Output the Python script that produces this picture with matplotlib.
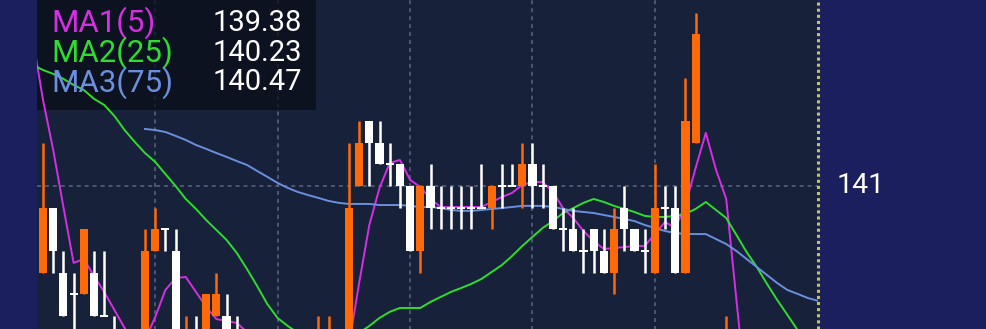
import numpy as np
import matplotlib.pyplot as plt
from matplotlib.patches import Rectangle
import matplotlib.transforms as mtransforms

# ---- candles (index 0..76), prices ----
opens = [140.6, 140.9, 140.6, 140.5, 140.5, 140.6, 140.4, 140.3, 140.2, 140.1,
         140.2, 140.7, 140.8, 140.7, 140.2, 140.3, 140.2, 140.4, 140.4, 140.3,
         140.2, 140.1, 140.0, 140.1, 140.0, 140.1, 140.2, 140.1, 140.1, 140.3,
         140.2, 141.0, 141.3, 141.2, 141.1, 141.1, 141.0, 140.7, 141.0, 140.9,
         140.9, 140.9, 140.9, 140.9, 140.9, 141.0, 141.0, 141.0, 141.1, 141.0,
         141.0, 140.8, 140.8, 140.7, 140.8, 140.7, 140.6, 140.9, 140.8, 140.7,
         140.6, 140.9, 140.9, 140.6, 141.2, 140.2, 140.0, 139.9, 140.1, 139.8,
         139.6, 139.5, 139.4, 139.3, 139.5, 139.4, 139.3]
highs = [141.2, 140.9, 140.7, 140.6, 140.8, 140.7, 140.7, 140.4, 140.3, 140.3,
         140.8, 140.9, 140.8, 140.8, 140.4, 140.4, 140.5, 140.6, 140.5, 140.4,
         140.3, 140.2, 140.1, 140.2, 140.1, 140.2, 140.3, 140.4, 140.4, 140.3,
         141.2, 141.3, 141.3, 141.3, 141.2, 141.1, 141.0, 141.0, 141.1, 141.0,
         141.0, 141.0, 141.0, 141.1, 141.0, 141.1, 141.1, 141.2, 141.2, 141.1,
         141.0, 140.9, 140.9, 140.8, 140.8, 140.8, 140.9, 141.0, 140.8, 140.8,
         141.1, 141.0, 141.0, 141.5, 141.8, 140.3, 140.2, 140.4, 140.2, 139.9,
         139.7, 139.6, 139.5, 139.6, 139.6, 139.5, 139.4]
lows = [140.6, 140.6, 140.4, 140.3, 140.5, 140.4, 140.4, 140.2, 140.0, 140.0,
        140.2, 140.7, 140.7, 140.2, 140.1, 140.1, 140.2, 140.4, 140.1, 140.1,
        140.0, 139.9, 139.9, 140.0, 139.9, 140.0, 140.1, 140.0, 140.1, 140.1,
        140.2, 141.0, 141.0, 141.1, 141.0, 140.9, 140.7, 140.6, 140.8, 140.8,
        140.8, 140.8, 140.8, 140.9, 140.8, 140.9, 141.0, 140.9, 140.9, 140.9,
        140.8, 140.7, 140.7, 140.6, 140.6, 140.6, 140.5, 140.7, 140.7, 140.6,
        140.6, 140.8, 140.6, 140.6, 141.2, 139.9, 139.8, 139.8, 139.7, 139.5,
        139.4, 139.3, 139.3, 139.3, 139.3, 139.2, 139.2]
closes = [140.9, 140.7, 140.4, 140.5, 140.8, 140.4, 140.4, 140.2, 140.1, 140.2,
          140.7, 140.8, 140.8, 140.3, 140.3, 140.2, 140.5, 140.5, 140.2, 140.2,
          140.1, 140.0, 140.1, 140.0, 140.1, 140.2, 140.1, 140.3, 140.3, 140.2,
          140.9, 141.2, 141.2, 141.1, 141.1, 141.0, 140.7, 141.0, 140.9, 140.9,
          140.9, 140.9, 140.9, 140.9, 141.0, 141.0, 141.0, 141.1, 141.0, 141.0,
          140.8, 140.8, 140.7, 140.7, 140.7, 140.6, 140.8, 140.8, 140.7, 140.7,
          140.9, 140.9, 140.6, 141.3, 141.7, 140.0, 139.9, 140.2, 139.8, 139.6,
          139.5, 139.4, 139.4, 139.5, 139.4, 139.3, 139.3]

# ---- moving averages ----
ma1 = [141.678, 141.397, 141.166, 140.903, 140.645, 140.663, 140.585, 140.511, 140.428, 140.345,
       140.266, 140.289, 140.395, 140.520, 140.575, 140.580, 140.511, 140.442, 140.386, 140.377,
       140.368, 140.326, 140.25, 140.22, 140.20, 140.20, 140.20, 140.22, 140.24, 140.25,
       140.25, 140.266, 140.552, 140.820, 140.991, 141.106, 141.120, 141.028, 140.995, 140.940,
       140.903, 140.903, 140.903, 140.903, 140.903, 140.926, 140.949, 140.968, 141.005, 141.018,
       141.018, 140.972, 140.898, 140.852, 140.792, 140.746, 140.709, 140.714, 140.718, 140.723,
       140.723, 140.778, 140.834, 140.806, 140.912, 141.083, 141.245, 141.074, 140.940, 140.474,
       140.012, 139.90, 139.80, 139.70, 139.60, 139.50, 139.45, 139.38]
ma2 = [141.558, 141.535, 141.517, 141.494, 141.466, 141.443, 141.402, 141.374, 141.323, 141.258,
       141.203, 141.152, 141.111, 141.055, 141.000, 140.940, 140.894, 140.843, 140.797, 140.751,
       140.691, 140.617, 140.538, 140.455, 140.391, 140.354, 140.322, 140.289, 140.266, 140.266,
       140.280, 140.299, 140.322, 140.354, 140.391, 140.419, 140.437, 140.437, 140.437, 140.465,
       140.488, 140.511, 140.529, 140.548, 140.571, 140.603, 140.635, 140.677, 140.723, 140.765,
       140.806, 140.838, 140.875, 140.898, 140.922, 140.940, 140.926, 140.908, 140.894, 140.880,
       140.862, 140.857, 140.857, 140.862, 140.871, 140.894, 140.926, 140.889, 140.852, 140.774,
       140.695, 140.626, 140.548, 140.474, 140.405, 140.335, 140.28, 140.23]
ma3 = [141.263, 141.258, 141.249, 141.231, 141.212, 141.189, 141.171, 141.152, 141.134, 141.115,
       141.097, 141.069, 141.042, 141.014, 140.991, 140.972, 140.958, 140.945, 140.931, 140.922,
       140.917, 140.917, 140.917, 140.912, 140.912, 140.912, 140.908, 140.903, 140.903, 140.898,
       140.889, 140.885, 140.885, 140.889, 140.894, 140.898, 140.903, 140.908, 140.908, 140.908,
       140.903, 140.894, 140.885, 140.880, 140.875, 140.866, 140.857, 140.848, 140.838, 140.820,
       140.806, 140.792, 140.783, 140.778, 140.778, 140.778, 140.755, 140.732, 140.700, 140.663,
       140.626, 140.589, 140.552, 140.520, 140.502, 140.483, 140.470]

ma_names = ["MA1(5)", "MA2(25)", "MA3(75)"]
ma_latest = ["139.38", "140.23", "140.47"]
grid_idx = [11, 23, 36, 48, 60]
price_label = 141

NAVY = "#1b1f5e"
BG = "#17213a"
ORANGE = "#ff6a08"
WHITE = "#ffffff"
MA_COLORS = ["#d52fe3", "#2fdc2f", "#6a8fdf"]

plt.rcParams["font.family"] = ["Roboto", "DejaVu Sans"]

fig = plt.figure(figsize=(9.86, 3.29), dpi=100, facecolor=NAVY)
ax = fig.add_axes([37 / 986, 0, 781 / 986, 1])
ax.set_facecolor(BG)
ax.set_xlim(-0.59, 76.0)
ax.set_ylim(140.340, 141.858)
for s in ax.spines.values():
    s.set_visible(False)
ax.set_xticks([])
ax.set_yticks([])

# grid
ax.axhline(price_label, color="#5b6682", lw=1.1, ls=(0, (2.6, 2.6)), zorder=1)
ax.vlines(grid_idx, 140.2, 142.0, color="#5b6682", lw=1.1, ls=(0, (2.6, 2.6)), zorder=1)

# legend box (semi transparent)
ax.add_patch(Rectangle((0, 1 - 110 / 329), (316 - 37) / 781, 110 / 329,
                       transform=ax.transAxes, facecolor="#0a0e18", alpha=0.75,
                       edgecolor="none", zorder=2))

# moving averages
x_all = np.arange(-1, 77)
ax.plot(x_all, ma1, color=MA_COLORS[0], lw=1.4, zorder=3)
ax.plot(x_all, ma2, color=MA_COLORS[1], lw=1.4, zorder=3)
ax.plot(np.arange(10, 77), ma3, color=MA_COLORS[2], lw=1.4, zorder=3)

# candles
o = np.array(opens)
h = np.array(highs)
l = np.array(lows)
c = np.array(closes)
x = np.arange(len(o))
cols = np.where(c > o, ORANGE, WHITE)
ax.vlines(x, l, h, colors=cols, lw=1.8, zorder=4)
doji = 0.009
flat = np.abs(c - o) < 1e-9
bottom = np.where(flat, o - doji / 2, np.minimum(o, c))
height = np.where(flat, doji, np.abs(c - o))
ax.bar(x, height, bottom=bottom, width=0.8, color=cols, linewidth=0, zorder=5)

# current-position dotted line
ax.axvline(76, color="#c8c45a", lw=2.2, ls=(0, (1, 1)), zorder=6, clip_on=False)

# price label on the right
trans = mtransforms.blended_transform_factory(ax.transAxes, ax.transData)
ax.text((837 - 37) / 781, price_label, str(price_label), transform=trans,
        color=WHITE, fontsize=20.5, va="center", ha="left", clip_on=False)

# legend text
row_y = [23, 53, 82.5]
for name, val, col, yy in zip(ma_names, ma_latest, MA_COLORS, row_y):
    fig.text(51 / 986, 1 - yy / 329, name, color=col, fontsize=22.5, va="center", ha="left")
    fig.text(302 / 986, 1 - yy / 329, val, color=WHITE, fontsize=21, va="center", ha="right")

fig.savefig("out.png", dpi=100, facecolor=NAVY)
